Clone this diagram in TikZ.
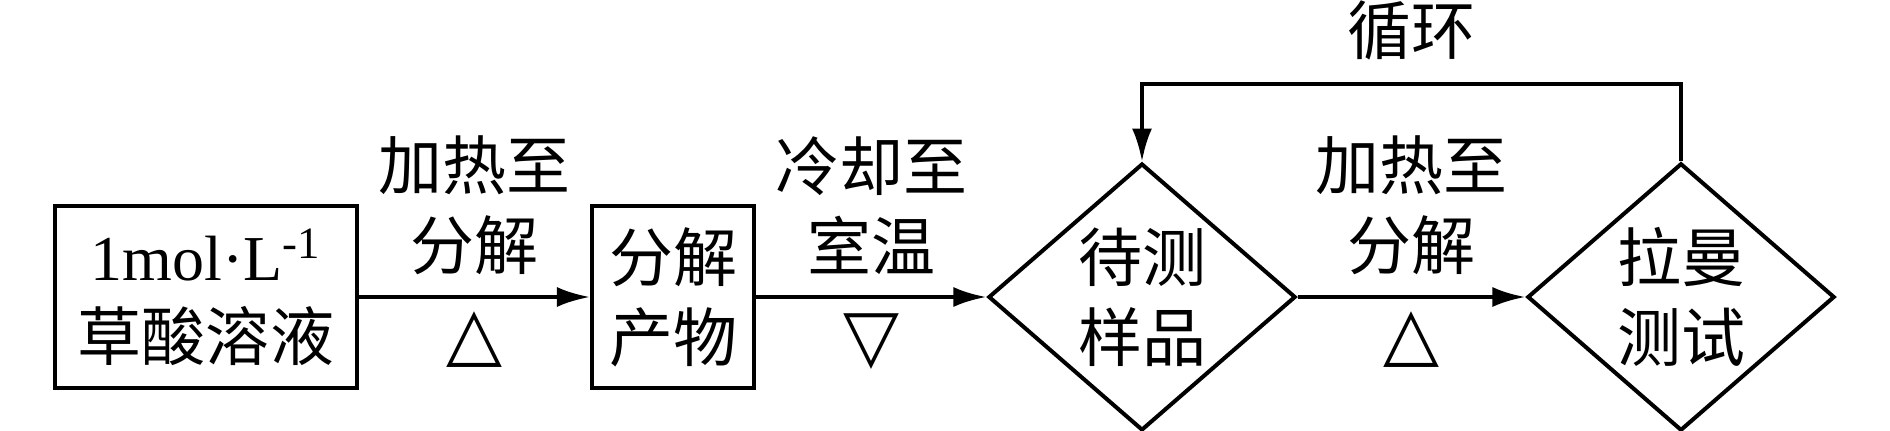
\documentclass[tikz,border=0pt]{standalone}
\usepackage{fontspec}
\setmainfont{Noto Sans CJK SC}
\newfontfamily\timesfont{Liberation Serif}
\newfontfamily\symfont{DejaVu Sans}
\usetikzlibrary{arrows.meta,shapes.geometric,positioning}
\begin{document}
\begin{tikzpicture}[x=0.01cm,y=-0.01cm,line width=1.14pt,
		font=\fontsize{18.2pt}{22.8pt}\selectfont,
		box/.style={draw,rectangle,align=center,inner sep=0pt,minimum height=1.82cm},
		dia/.style={draw,diamond,align=center,inner sep=0pt,minimum width=3.07cm,minimum height=2.61cm},
		arr/.style={-{Latex[length=0.33cm,width=0.2cm]}},
		lbl/.style={align=center,inner sep=0pt},
		heat/.style={inner sep=0pt,font=\fontsize{20.7pt}{20.7pt}\symfont}]
		\useasboundingbox (0,0) rectangle (1890,430);
		\node[box,minimum width=3.02cm] (sol) at (206,297) {{\timesfont 1mol·L\textsuperscript{-1}}\\草酸溶液};
		\node[box,minimum width=1.62cm] (prod) at (673,297) {分解\\产物};
		\node[dia] (samp) at (1142,297) {待测\\样品};
		\node[dia] (raman) at (1681,297) {拉曼\\测试};
		\coordinate (R) at (1681,84);
		\coordinate (S) at (1142,84);
		\draw[arr] (sol) -- node[lbl,above=0.2cm] (t1) {加热至\\分解} node[heat,below=0.13cm] (h1) {△} (prod);
		\draw[arr] (prod) -- node[lbl,above=0.2cm] (t2) {冷却至\\室温} node[heat,below=0.15cm] (h2) {▽} (samp);
		\draw[arr] (samp) -- node[lbl,above=0.2cm] (t3) {加热至\\分解} node[heat,below=0.13cm] (h3) {△} (raman);
		\draw[arr] (raman.north) -- (R) -- node[lbl,above=0.22cm] (t4) {循环} (S) -- (samp.north);
	\end{tikzpicture}
\end{document}
